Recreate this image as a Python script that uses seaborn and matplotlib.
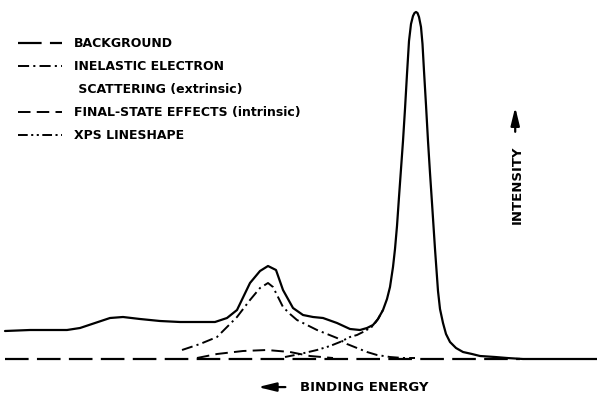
import numpy as np
import matplotlib
matplotlib.use("Agg")
import matplotlib.pyplot as plt
import seaborn as sns
from matplotlib.lines import Line2D

# positions along the energy axis (arbitrary units, left = high binding energy)
# intensities measured above the background level
spec_x = [5, 30, 67, 80, 95, 110, 123, 140, 160, 180, 200, 215, 227, 237, 250, 260,
          268, 276, 283, 293, 303, 313, 323, 337, 350, 360, 367, 373, 378, 383, 387,
          390, 393, 395, 397, 399, 401, 403, 405, 407, 409, 411, 413, 414.5, 416,
          417.5, 419, 421, 422.5, 424, 426, 428, 430, 432, 435, 438, 440, 443, 446,
          450, 456, 463, 472, 480, 495, 507, 523, 597]
spec_y = [28, 29, 29, 31, 36, 41, 42, 40, 38, 37, 37, 37, 41, 49, 76, 88,
          93, 89, 69, 51, 44, 42, 41, 36, 30, 29, 31, 34, 40, 49, 60,
          72, 92, 110, 133, 162, 190, 218, 250, 285, 318, 335, 343, 346, 347,
          346, 342, 332, 315, 288, 254, 218, 186, 156, 110, 68, 50, 36, 25,
          17, 11, 7, 5, 3, 2, 1, 0, 0]

bg_x = [5, 520]
bg_y = [0, 0]

inel_x = [182, 200, 217, 237, 250, 260, 268, 273, 277, 283, 290, 297, 307, 317,
          327, 337, 347, 357, 367, 377, 390, 403, 415]
inel_y = [9, 15, 22, 42, 59, 71, 76, 72, 64, 52, 45, 39, 34, 29,
          25, 21, 15, 11, 7, 4, 2, 1, 1]

final_x = [197, 217, 243, 267, 290, 310, 333]
final_y = [1, 5, 8, 9, 7, 3, 1]

xps_x = [285, 300, 317, 330, 340, 350, 357, 365, 373, 378, 383]
xps_y = [2, 5, 9, 13, 17, 22, 24, 28, 33, 40, 49]

labels = ["BACKGROUND", "INELASTIC ELECTRON", " SCATTERING (extrinsic)",
          "FINAL-STATE EFFECTS (intrinsic)", "XPS LINESHAPE"]

sns.set_theme(style="white")
plt.rcParams["font.family"] = ["DejaVu Sans"]
plt.rcParams["lines.scale_dashes"] = False

fig = plt.figure(figsize=(5.97, 3.97), dpi=100)
ax = fig.add_axes([0, 0, 1, 1])

ls_bg = (0, (17, 6))
ls_inel = (0, (8, 3, 1.5, 3))
ls_final = (0, (9, 4.5))
ls_xps = (0, (7, 2.5, 1.5, 2.5, 1.5, 2.5))

sns.lineplot(x=bg_x, y=bg_y, ax=ax, color="black", lw=1.6, linestyle=ls_bg, estimator=None)
sns.lineplot(x=inel_x, y=inel_y, ax=ax, color="black", lw=1.4, linestyle=ls_inel, estimator=None)
sns.lineplot(x=final_x, y=final_y, ax=ax, color="black", lw=1.4, linestyle=ls_final, estimator=None)
sns.lineplot(x=xps_x, y=xps_y, ax=ax, color="black", lw=1.4, linestyle=ls_xps, estimator=None)
sns.lineplot(x=spec_x, y=spec_y, ax=ax, color="black", lw=1.6, estimator=None)

ax.set_xlim(0, 597)
ax.set_ylim(-38, 359)
ax.axis("off")

handles = [Line2D([], [], color="black", lw=1.6, linestyle=ls_bg),
           Line2D([], [], color="black", lw=1.4, linestyle=ls_inel),
           Line2D([], [], linestyle="none"),
           Line2D([], [], color="black", lw=1.4, linestyle=ls_final),
           Line2D([], [], color="black", lw=1.4, linestyle=ls_xps)]
ax.legend(handles, labels, loc="upper left", bbox_to_anchor=(0.030, 0.906),
          frameon=False, prop=dict(size=9, weight="bold"), labelcolor="black",
          handlelength=3.5, handletextpad=1.0,
          labelspacing=0.8, borderaxespad=0, borderpad=0)

arrow = dict(arrowstyle="-|>,head_length=0.9,head_width=0.22", color="black",
             lw=1.6, shrinkA=0, shrinkB=0)
ax.text(0.866, 0.535, "INTENSITY", transform=ax.transAxes, rotation=90,
        ha="center", va="center", fontsize=9.5, fontweight="bold", color="black")
ax.annotate("", xy=(0.863, 0.730), xytext=(0.863, 0.668), xycoords="axes fraction",
            arrowprops=arrow)
ax.text(0.503, 0.025, "BINDING ENERGY", transform=ax.transAxes,
        ha="left", va="center", fontsize=9.5, fontweight="bold", color="black")
ax.annotate("", xy=(0.432, 0.025), xytext=(0.478, 0.025), xycoords="axes fraction",
            arrowprops=arrow)

fig.savefig("out.png", dpi=100)
